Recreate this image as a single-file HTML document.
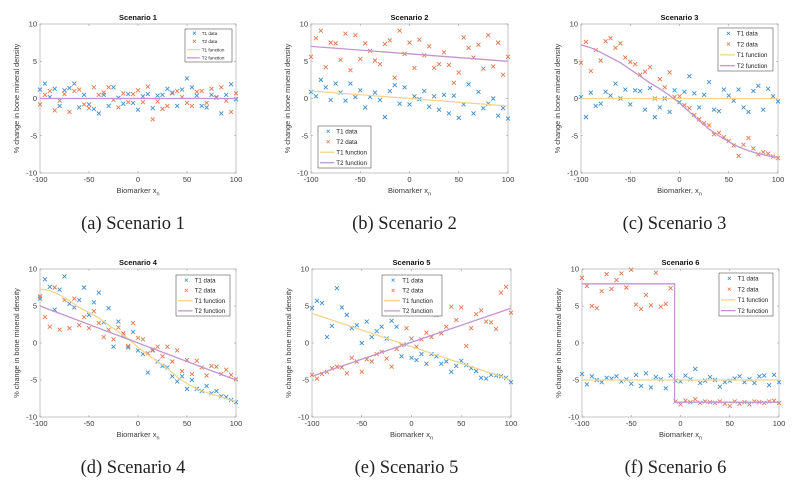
<!DOCTYPE html>
<html><head><meta charset="utf-8"><style>
html,body{margin:0;padding:0;background:#fff;}
svg{display:block;font-family:"Liberation Sans",sans-serif;}
</style></head><body>
<svg id="fig" width="800" height="491" viewBox="0 0 800 491" xmlns="http://www.w3.org/2000/svg"></svg>
<script>
const xs=[-100,-95,-90,-85,-80,-75,-70,-65,-60,-55,-50,-45,-40,-35,-30,-25,-20,-15,-10,-5,0,5,10,15,20,25,30,35,40,45,50,55,60,65,70,75,80,85,90,95,100];
const fx=[-100,-90,-80,-70,-60,-50,-40,-30,-20,-10,0,10,20,30,40,50,60,70,80,90,100];
const xTicks=[-100,-50,0,50,100];
const yTicks=[-10,-5,0,5,10];
// Scenario 1
const s1T1=[1.2,2,0.2,1.3,-1,1.1,1.4,2,-1.2,0.5,-0.8,-1.4,-2,0.5,-1,1.5,0.1,-0.7,0.6,-0.6,-1.5,0.3,0.6,-1.3,0.4,0.5,1.3,0.8,-1,1.2,2.7,1.5,0.4,-1,-1.2,0.5,0.2,-2,0.5,1.9,-0.1];
const s1T2=[-0.8,0.5,1,-1.6,-0.3,0.6,-1.8,1,1.2,-0.8,-1.3,1.5,0.5,0.8,1.5,-0.2,-1.2,0.7,-0.5,0.6,1.1,-0.5,1.6,-2.8,-0.4,-1.4,-1,0.7,1,0.2,-0.6,-1,0.9,1,-0.6,1.3,0.1,1.5,-0.3,-1.8,0.7];
const s1F1x=[-100,100], s1F1y=[0,0], s1F2x=[-100,100], s1F2y=[0,0];
// Scenario 2
const s2T1=[0.9,0.3,2.5,1.5,-0.2,2,0.8,-0.3,2,0.2,1.1,-1.2,0.2,0.8,-0.2,-2.5,1,1.8,-0.7,1.5,-0.8,0.3,-0.1,1,-1.1,0.3,-1.5,0.5,-2,0.4,-2.6,-0.8,1.9,-2,0.9,-1.3,-0.7,0,-2.3,-1.3,-2.7];
const s2T2=[5.6,8.1,9.1,4.2,7.5,7.4,5.2,8.7,3.8,8.5,5.3,7.4,6.4,5.1,4.6,7.3,7.8,2.8,9.1,6,7.5,4.1,7.9,5.8,7,4.1,4.6,6.2,4.5,2.1,3.5,8.2,6.8,5.5,7.2,4,8.5,4.3,7.5,3.2,5.6];
const s2F1x=[-100,100], s2F1y=[1,-1], s2F2x=[-100,100], s2F2y=[7,5];
// Scenario 3
const s3T1=[0.2,-2.5,0.8,-1,-0.7,0.9,0.4,2,0,1.2,-0.8,1.1,1,-1.5,1.4,-2.5,-1.2,0,-1.8,1.1,-0.5,0.9,3,0.7,-1.2,0.5,2.2,-1.5,-1.7,1.2,0.4,-0.3,1.2,-1.2,-1.8,1,1.7,-1.5,1.3,0.3,-0.4];
const s3T2=[4.8,7.6,3.7,6.5,5.1,7.7,8.1,6.8,7.4,5.5,4.9,4.6,3.2,3.6,4.2,0,2.6,1.5,3.5,0.2,0.3,-0.9,-1.3,-2.2,-2.8,-3.3,-3.6,-4.8,-4.6,-5.2,-5.7,-6.3,-7.7,-6.2,-5.3,-6.7,-7.5,-7.2,-7.4,-7.8,-8];
const s3F1x=[-100,100], s3F1y=[0,0];
const s3F2y=[7.2,6.8,6.2,5.5,4.8,3.9,3,2.1,1.3,0.4,-0.6,-1.8,-3,-4.1,-5,-5.8,-6.5,-7,-7.4,-7.7,-7.9];
// Scenario 4
const s4T1=[6,8.6,7.6,4.5,7.2,9,5.3,4.8,5.8,7.5,3.8,5.5,6.8,2.8,4.7,-0.5,2.9,1,-0.6,1.5,-1,-1.5,-4,-1,-2.5,-3.1,-3.3,-4.5,-5.2,-4.5,-6.2,-5,-6.2,-6.5,-5.8,-6.8,-6.5,-7.2,-7.3,-7.7,-8];
const s4T2=[6.3,3.5,2.2,7.5,1.8,5.8,2,6,2.4,3.5,2,4.3,2.7,0.8,1.8,0.5,2.1,1.3,-0.4,2.7,0.7,0.5,-1.4,-0.9,-0.5,-1.8,-0.5,-2.5,-1,-3.8,-2.3,-4.2,-2.4,-3.3,-4.4,-3.1,-3.2,-4.2,-3.6,-4.3,-4.9];
const s4F1y=[7.3,7.1,6.5,5.7,4.8,4.1,3.4,2.4,1.5,0.6,-0.6,-1.6,-2.5,-3.4,-4.6,-5.5,-6.2,-6.7,-7.1,-7.5,-7.9];
const s4F2x=[-100,100], s4F2y=[5,-5];
// Scenario 5
const s5T1=[4.7,5.7,5.4,0.8,2.3,7.4,4.8,3.8,2,2.4,0,2.9,0.8,1.6,2.2,0.6,3,2.2,-1.8,-0.2,-2,-2.3,-1.5,-2.8,-1.5,-1.8,-2.8,-2.5,-3.9,-3.1,-2.4,-3,-3.4,-3.8,-4.7,-4.8,-4.3,-4.4,-4.5,-4.7,-5.3];
const s5T2=[-4.3,-4.8,-4.2,-3.9,-3.4,-3.2,-3.3,-4.1,-2,-2.5,-3.9,-2.2,-2.5,-1.5,-1.2,-2.1,-3.2,-0.8,-0.3,2,0.6,-0.5,0.5,1.4,0.8,3.8,1.3,2.2,4.9,3.1,4.8,-0.4,2,3.9,4.4,2.9,2.8,1.9,6.8,7.6,4.1];
const s5F1x=[-100,100], s5F1y=[4,-5], s5F2x=[-100,100], s5F2y=[-4.5,4.7];
// Scenario 6
const s6T1=[-4.2,-5.6,-4.5,-5,-5.3,-4.7,-4.8,-4.5,-5.2,-4.9,-5.5,-4.3,-5.8,-4.1,-6,-4.6,-4.9,-6.1,-4.4,-5.1,-5.2,-4.4,-4.9,-3.5,-5.4,-5.1,-4.6,-5,-5.9,-5.3,-5.1,-4.8,-4.5,-5.3,-4.9,-5.4,-4.5,-4.4,-5.7,-4.3,-5.3];
const s6T2=[8.8,7.7,5,4.7,7,9.3,7.3,8.5,9.4,7.5,9.9,5.2,4.6,6.5,5.1,9.5,4.9,5.3,7.4,-7.9,-8.3,-7.8,-8,-7.6,-8.1,-7.9,-8,-8.1,-7.9,-8.2,-8.5,-7.9,-8.2,-8,-8.3,-7.9,-8,-8.1,-7.9,-7.8,-8.1];
const s6F1x=[-100,100], s6F1y=[-5,-5], s6F2x=[-100,-6,-6,100], s6F2y=[8,8,-8,-8];

const C1='#3d8fd1', C2='#e4784e', CF1='#f3d58c', CF2='#c495cf';
const svg=document.getElementById('fig');
const NS='http://www.w3.org/2000/svg';
function mk(tag,attrs,parent){const e=document.createElementNS(NS,tag);for(const k in attrs)e.setAttribute(k,attrs[k]);(parent||svg).appendChild(e);return e;}

const panels=[
 {id:1,L:40,R:236,T:24,B:173,title:'Scenario 1',xl:'Biomarker x',cap:'(a)  Scenario 1',d1:s1T1,d2:s1T2,f1x:s1F1x,f1y:s1F1y,f2x:s1F2x,f2y:s1F2y,lg:[185,29,47,33],fs:4.6},
 {id:2,L:311,R:508,T:24,B:173,title:'Scenario 2',xl:'Biomarker x',cap:'(b)  Scenario 2',d1:s2T1,d2:s2T2,f1x:s2F1x,f1y:s2F1y,f2x:s2F2x,f2y:s2F2y,lg:[318,126,53,42],fs:6.2},
 {id:3,L:581,R:778,T:24,B:173,title:'Scenario 3',xl:'Biomarker, x',cap:'(c)  Scenario 3',d1:s3T1,d2:s3T2,f1x:s3F1x,f1y:s3F1y,f2x:fx,f2y:s3F2y,lg:[718,28,55,43],fs:6.2},
 {id:4,L:40,R:236,T:269,B:417,title:'Scenario 4',xl:'Biomarker x',cap:'(d)  Scenario 4',d1:s4T1,d2:s4T2,f1x:fx,f1y:s4F1y,f2x:s4F2x,f2y:s4F2y,lg:[176,275,54,41],fs:6.2},
 {id:5,L:312,R:511,T:269,B:417,title:'Scenario 5',xl:'Biomarker x',cap:'(e)  Scenario 5',d1:s5T1,d2:s5T2,f1x:s5F1x,f1y:s5F1y,f2x:s5F2x,f2y:s5F2y,lg:[382,275,60,41],fs:6.2},
 {id:6,L:582,R:779,T:269,B:417,title:'Scenario 6',xl:'Biomarker x',cap:'(f)  Scenario 6',d1:s6T1,d2:s6T2,f1x:s6F1x,f1y:s6F1y,f2x:s6F2x,f2y:s6F2y,lg:[719,273,54,43],fs:6.2}
];

panels.forEach(p=>{
 const g=mk('g',{});
 
 
 const sx=v=>p.L+(v+100)/200*(p.R-p.L);
 const sy=v=>p.B-(v+10)/20*(p.B-p.T);
 const box=mk('rect',{x:p.L,y:p.T,width:p.R-p.L,height:p.B-p.T,fill:'#fff',stroke:'#b8b8b8','stroke-width':0.8},g);
 
 
 xTicks.forEach(t=>{
  const x=sx(t);
  mk('line',{x1:x,x2:x,y1:p.B,y2:p.B-2,stroke:'#999','stroke-width':0.6},g);
  mk('line',{x1:x,x2:x,y1:p.T,y2:p.T+2,stroke:'#999','stroke-width':0.6},g);
  const tx=mk('text',{x:x,y:p.B+9,'font-size':7.5,'text-anchor':'middle',fill:'#3a3a3a'},g);
  tx.textContent=t;
  
  
 });
 yTicks.forEach(t=>{
  const y=sy(t);
  mk('line',{x1:p.L,x2:p.L+2,y1:y,y2:y,stroke:'#999','stroke-width':0.6},g);
  mk('line',{x1:p.R,x2:p.R-2,y1:y,y2:y,stroke:'#999','stroke-width':0.6},g);
  const ty=mk('text',{x:p.L-3,y:y+2.6,'font-size':7.5,'text-anchor':'end',fill:'#3a3a3a'},g);
  ty.textContent=t;
  
  
 });
 const tt=mk('text',{x:(p.L+p.R)/2,y:p.T-4,'font-size':7.5,'font-weight':'bold','text-anchor':'middle',fill:'#111'},g);
 tt.textContent=p.title;
 
 
 const xl=mk('text',{x:(p.L+p.R)/2,y:p.B+20,'font-size':7.5,'text-anchor':'middle',fill:'#3a3a3a'},g);
 xl.textContent=p.xl;
 const sub=mk('tspan',{dy:2.5,'font-size':5.5},xl);sub.textContent='n';
 
 
 const ycx=p.L-21, ycy=(p.T+p.B)/2;
 const yl=mk('text',{x:ycx,y:ycy,'font-size':7.3,'text-anchor':'middle',fill:'#3a3a3a',transform:'rotate(-90 '+ycx+' '+ycy+')'},g);
 yl.textContent='% change in bone mineral density';
 
 
 const line=(X,Y,col,name)=>{
  const pts=X.map((x,i)=>sx(x).toFixed(1)+','+sy(Y[i]).toFixed(1)).join(' ');
  const pl=mk('polyline',{points:pts,fill:'none',stroke:col,'stroke-width':1.3},g);
  
  
 };
 const cross=(X,Y,col,name)=>{
  const gg=mk('g',{stroke:col,'stroke-width':0.9},g);
  
  
  X.forEach((x,i)=>{
   const cx=sx(x), cy=sy(Y[i]), r=2;
   const m=mk('path',{d:`M${cx-r},${cy-r}L${cx+r},${cy+r}M${cx-r},${cy+r}L${cx+r},${cy-r}`},gg);
   
   
  });
 };
 cross(xs,p.d1,C1,'t1-data');
 cross(xs,p.d2,C2,'t2-data');
 line(p.f1x,p.f1y,CF1,'t1-function');
 line(p.f2x,p.f2y,CF2,'t2-function');
 const [lx,ly,lw,lh]=p.lg;
 const lg=mk('g',{},g);
 
 
 mk('rect',{x:lx,y:ly,width:lw,height:lh,fill:'#fff',stroke:'#333','stroke-width':0.5},lg);
 const items=[['T1 data',C1,'m'],['T2 data',C2,'m'],['T1 function',CF1,'l'],['T2 function',CF2,'l']];
 const rh=lh/4, sw=lw*0.27;
 items.forEach((it,i)=>{
  const cy=ly+rh*(i+0.5), cx=lx+3+sw/2;
  if(it[2]==='m'){const r=1.5;mk('path',{d:`M${cx-r},${cy-r}L${cx+r},${cy+r}M${cx-r},${cy+r}L${cx+r},${cy-r}`,stroke:it[1],'stroke-width':0.8},lg);}
  else mk('line',{x1:lx+2,x2:lx+2+sw,y1:cy,y2:cy,stroke:it[1],'stroke-width':1.3},lg);
  const t=mk('text',{x:lx+4+sw,y:cy+p.fs*0.36,'font-size':p.fs,fill:'#222'},lg);
  t.textContent=it[0];
  
  
 });
 const cp=mk('text',{x:(p.L+p.R)/2-5,y:p.B+56,'font-size':18.5,'text-anchor':'middle',fill:'#222','font-family':'"Liberation Serif",serif'},svg);
 cp.textContent=p.cap;
 
 
});
</script>
</body></html>
